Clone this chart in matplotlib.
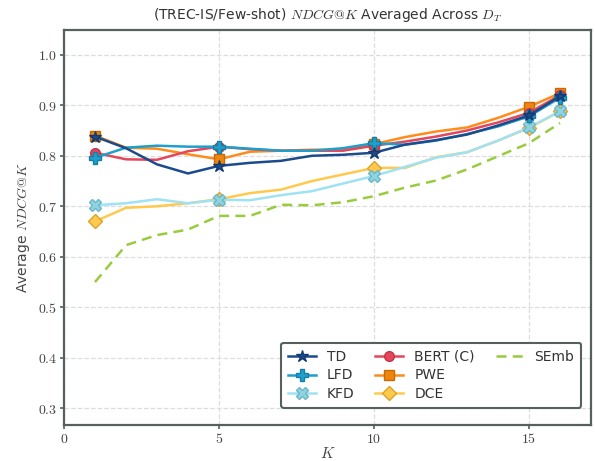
import matplotlib
matplotlib.use('Agg')
import matplotlib.pyplot as plt
from matplotlib.lines import Line2D
from matplotlib.ticker import FormatStrFormatter

plt.rcParams['mathtext.fontset'] = 'cm'
plt.rcParams['font.family'] = ['DejaVu Sans']

k = list(range(1, 17))

td = [0.838, 0.815, 0.783, 0.765, 0.780, 0.786, 0.790, 0.800, 0.802, 0.806,
      0.822, 0.831, 0.842, 0.860, 0.880, 0.918]
lfd = [0.796, 0.816, 0.820, 0.818, 0.818, 0.814, 0.810, 0.810, 0.815, 0.825,
       0.822, 0.830, 0.843, 0.858, 0.878, 0.915]
kfd = [0.702, 0.706, 0.714, 0.706, 0.713, 0.712, 0.722, 0.730, 0.745, 0.760,
       0.778, 0.796, 0.807, 0.830, 0.856, 0.888]
bert = [0.806, 0.793, 0.792, 0.809, 0.818, 0.813, 0.810, 0.810, 0.810, 0.820,
        0.828, 0.838, 0.850, 0.866, 0.885, 0.920]
pwe = [0.840, 0.816, 0.814, 0.803, 0.793, 0.808, 0.810, 0.812, 0.812, 0.823,
       0.837, 0.848, 0.856, 0.875, 0.897, 0.924]
dce = [0.670, 0.697, 0.700, 0.706, 0.714, 0.726, 0.733, 0.750, 0.763, 0.776,
       0.776, 0.797, 0.807, 0.830, 0.855, 0.888]
semb = [0.550, 0.623, 0.643, 0.654, 0.681, 0.681, 0.703, 0.702, 0.708, 0.720,
        0.737, 0.751, 0.773, 0.799, 0.825, 0.865]

mark_at = [0, 4, 9, 14, 15]

fig = plt.figure(figsize=(5.95, 4.61), dpi=100)
ax = fig.add_axes([64/595, 1 - 425/461, (591-64)/595, (425-30)/461])

ax.plot(k, td, color='#1b4b8c', lw=1.8, marker='*', ms=9, mec='#123a70',
        markevery=mark_at, label='TD', zorder=7)
ax.plot(k, lfd, color='#1f9fcc', lw=1.8, marker='P', ms=8, mec='#177fa5',
        markevery=mark_at, label='LFD', zorder=6)
ax.plot(k, kfd, color='#9fe2f3', lw=1.8, marker='X', ms=8, mfc='#8fd3e0', mec='#6cb8c8',
        markevery=mark_at, label='KFD', zorder=3)
ax.plot(k, bert, color='#e4475c', lw=1.8, marker='o', ms=7, mec='#c23447',
        markevery=mark_at, label='BERT (C)', zorder=5)
ax.plot(k, pwe, color='#ff8c1a', lw=1.8, marker='s', ms=7, mfc='#f0850e', mec='#c56a0a',
        markevery=mark_at, label='PWE', zorder=4)
ax.plot(k, dce, color='#ffc94d', lw=1.8, marker='D', ms=7, mfc='#ffc94d', mec='#d9a32c',
        markevery=mark_at, label='DCE', zorder=2)
ax.plot(k, semb, color='#99cc3d', lw=1.8, ls=(0, (4, 2.5)), label='SEmb', zorder=1)

ax.set_xlim(0, 17)
ax.set_ylim(0.267, 1.049)
ax.set_xticks([0, 5, 10, 15])
ax.set_yticks([0.3, 0.4, 0.5, 0.6, 0.7, 0.8, 0.9, 1.0])
ax.xaxis.set_major_formatter(FormatStrFormatter('$%d$'))
ax.yaxis.set_major_formatter(FormatStrFormatter('$%.1f$'))
ax.grid(True, ls='--', color='#dddddd', lw=0.9)
ax.set_axisbelow(True)

for s in ax.spines.values():
    s.set_color('#56605e')
    s.set_linewidth(1.6)
ax.tick_params(colors='#56605e', labelcolor='#444444', labelsize=10, width=1.2,
               length=3, pad=2)

ax.set_xlabel('$K$', fontsize=11, color='#444444', labelpad=0)
ax.set_ylabel('Average $NDCG@K$', fontsize=10, color='#444444', labelpad=4)
ax.set_title('(TREC-IS/Few-shot) $NDCG@K$ Averaged Across $D_T$', fontsize=10,
             color='#333333', pad=8)

handles, labels = ax.get_legend_handles_labels()
blank = Line2D([], [], color='none')
handles += [blank, blank]
labels += ['', '']
leg = ax.legend(handles, labels, loc='lower right', ncol=3, fontsize=10, frameon=True,
                framealpha=1, edgecolor='#56605e', fancybox=True, columnspacing=1.5,
                handlelength=2.0, borderpad=0.5, labelspacing=0.35,
                bbox_to_anchor=(0.995, 0.025))
leg.get_frame().set_linewidth(1.5)
for t in leg.get_texts():
    t.set_color('#333333')

fig.savefig('out.png', dpi=100)
